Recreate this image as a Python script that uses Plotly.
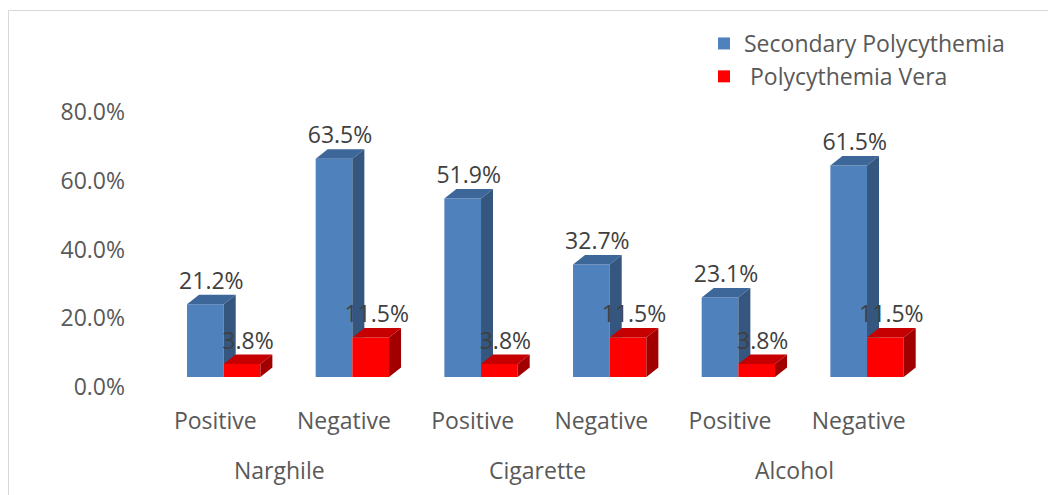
import plotly.graph_objects as go

# Data
groups = ["Narghile", "Cigarette", "Alcohol"]
status = ["Positive", "Negative"]
secondary = [21.2, 63.5, 51.9, 32.7, 23.1, 61.5]
vera = [3.8, 11.5, 3.8, 11.5, 3.8, 11.5]
y_ticks = [0, 20, 40, 60, 80]

series_names = ["Secondary Polycythemia", " Polycythemia Vera"]

# Layout geometry (pixels)
W, H = 1048, 495
ML, MR, MT, MB = 151, 125, 85, 118
plot_w = W - ML - MR
plot_h = H - MT - MB
x_range = [-0.5, 5.5]
px_per_x = plot_w / (x_range[1] - x_range[0])
px_per_y = 68.75 / 20.0
y_top = plot_h / px_per_y

# 3D extrusion of each bar (pixels -> data units)
depth_x = 12 / px_per_x
depth_y = 9.5 / px_per_y
bar_w = 0.285
off_blue = -0.22
off_red = off_blue + bar_w

FONT = "Open Sans"
TICK_COLOR = "#595959"
LABEL_COLOR = "#404040"

BLUE = ("#4F81BD", "#3D6699", "#34567F")
RED = ("#FF0000", "#C60000", "#A20000")

xpos = list(range(len(groups) * len(status)))
xlabels = [s for _ in groups for s in status]


def top_faces(values, offset):
    xs, ys = [], []
    for x, v in zip(xpos, values):
        l, r = x + offset, x + offset + bar_w
        xs += [l, r, r + depth_x, l + depth_x, l, None]
        ys += [v, v, v + depth_y, v + depth_y, v, None]
    return xs, ys


def side_faces(values, offset, cover=None):
    # right-hand face; the part hidden behind a neighbouring front is cut away
    xs, ys = [], []
    for i, (x, v) in enumerate(zip(xpos, values)):
        r = x + offset + bar_w
        low = 0 if cover is None else min(cover[i], v)
        if low >= depth_y:
            px = [r, r, r + depth_x, r + depth_x, r]
            py = [low, v, v + depth_y, low, low]
        else:
            cut = r + depth_x * low / depth_y
            px = [r, r, r + depth_x, r + depth_x, cut, r]
            py = [low, v, v + depth_y, depth_y, low, low]
        xs += px + [None]
        ys += py + [None]
    return xs, ys


fig = go.Figure()


def add_series(name, values, offset, colors, cover=None):
    front, top, side = colors
    fig.add_trace(go.Bar(
        x=xpos, y=values, width=bar_w, offset=offset, name=name,
        marker=dict(color=front, line=dict(width=0)), hoverinfo="skip",
    ))
    tx, ty = top_faces(values, offset)
    fig.add_trace(go.Scatter(
        x=tx, y=ty, mode="lines", fill="toself", fillcolor=top,
        line=dict(width=0, color=top), showlegend=False, hoverinfo="skip",
    ))
    sx, sy = side_faces(values, offset, cover)
    fig.add_trace(go.Scatter(
        x=sx, y=sy, mode="lines", fill="toself", fillcolor=side,
        line=dict(width=0, color=side), showlegend=False, hoverinfo="skip",
    ))


add_series(series_names[0], secondary, off_blue, BLUE, cover=vera)
add_series(series_names[1], vera, off_red, RED)

# value labels centred over each bar's top face
for values, offset in ((secondary, off_blue), (vera, off_red)):
    fig.add_trace(go.Scatter(
        x=[x + offset + bar_w / 2 + depth_x / 2 for x in xpos],
        y=[v + depth_y for v in values],
        text=[f"{v:.1f}%" for v in values],
        mode="text", textposition="top center",
        textfont=dict(family=FONT, size=23, color=LABEL_COLOR),
        showlegend=False, hoverinfo="skip", cliponaxis=False,
    ))

# group names under each pair of categories
for gi, g in enumerate(groups):
    fig.add_annotation(
        x=gi * len(status) + (len(status) - 1) / 2, xref="x",
        y=-(470 - (H - MB)) / plot_h, yref="paper",
        text=g, showarrow=False, yanchor="middle",
        font=dict(family=FONT, size=23, color=TICK_COLOR),
    )

# chart frame
def px_to_paper_x(px):
    return (px - ML) / plot_w


def px_to_paper_y(py):
    return (H - MB - py) / plot_h


fig.add_shape(
    type="rect", xref="paper", yref="paper",
    x0=px_to_paper_x(8.5), x1=px_to_paper_x(W + 20),
    y0=px_to_paper_y(H + 20), y1=px_to_paper_y(10.5),
    line=dict(color="#D9D9D9", width=1), fillcolor="rgba(0,0,0,0)",
    layer="below",
)

fig.update_layout(
    width=W, height=H,
    margin=dict(l=ML, r=MR, t=MT, b=MB, pad=0, autoexpand=False),
    paper_bgcolor="white", plot_bgcolor="white",
    barmode="overlay",
    font=dict(family=FONT, size=23, color=TICK_COLOR),
    xaxis=dict(
        range=x_range, tickmode="array", tickvals=xpos, ticktext=xlabels,
        showgrid=False, zeroline=False, showline=False, ticks="",
        tickangle=0, ticklabelstandoff=28,
        tickfont=dict(family=FONT, size=23, color=TICK_COLOR),
        fixedrange=True,
    ),
    yaxis=dict(
        range=[0, y_top], tickmode="array", tickvals=y_ticks,
        ticktext=[f"{v:.1f}%" for v in y_ticks],
        showgrid=False, zeroline=False, showline=False, ticks="",
        ticklabelshift=10, ticklabelstandoff=25,
        tickfont=dict(family=FONT, size=23, color=TICK_COLOR),
        fixedrange=True,
    ),
    legend=dict(
        xref="container", yref="container",
        x=704 / W, y=1 - 22 / H, xanchor="left", yanchor="top",
        font=dict(family=FONT, size=23, color=TICK_COLOR),
        bgcolor="rgba(0,0,0,0)", tracegroupgap=0,
    ),
    showlegend=True,
)

fig.write_html("out.html")
